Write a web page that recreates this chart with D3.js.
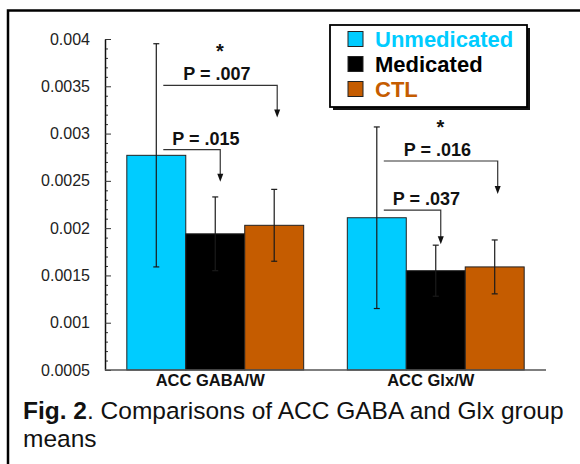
<!DOCTYPE html>
<html>
<head>
<meta charset="utf-8">
<script src="https://cdn.jsdelivr.net/npm/d3@7"></script>
<style>
  body { margin: 0; background: #fff; }
  svg { display: block; font-family: "Liberation Sans", Arial, sans-serif; }
</style>
</head>
<body>
<div id="chart"></div>
<script>
// Data
const groups = ["ACC GABA/W", "ACC Glx/W"];
const series = ["Unmedicated", "Medicated", "CTL"];

const unmedicatedMeans = [0.00277, 0.00211];
const unmedicatedSD = [0.00118, 0.00096];
const medicatedMeans = [0.00194, 0.00155];
const medicatedSD = [0.00039, 0.00027];
const ctlMeans = [0.00203, 0.00159];
const ctlSD = [0.00038, 0.000285];

const yTicks = [0.0005, 0.001, 0.0015, 0.002, 0.0025, 0.003, 0.0035, 0.004];
const yTickLabels = ["0.0005", "0.001", "0.0015", "0.002", "0.0025", "0.003", "0.0035", "0.004"];

// significance brackets: from Unmedicated to target, level of line and arrow tip
const sigGroups = ["ACC GABA/W", "ACC GABA/W", "ACC Glx/W", "ACC Glx/W"];
const sigTargets = ["Medicated", "CTL", "Medicated", "CTL"];
const sigLabels = ["P = .015", "P = .007", "P = .037", "P = .016"];
const sigLineLevels = [0.00283, 0.00351, 0.00219, 0.00271];
const sigTipLevels = [0.00249, 0.00317, 0.00183, 0.00236];
const sigStars = [false, true, false, true];

const colors = { Unmedicated: "#00CCFF", Medicated: "#000000", CTL: "#C55C00" };

const width = 580;
const height = 464;

// plot frame
const plot = { left: 105, right: 546, top: 39, bottom: 370 };

const svg = d3.select("#chart")
  .append("svg")
  .attr("width", width)
  .attr("height", height);

// figure frame (top and left only visible)
svg.append("path")
  .attr("d", `M8,${height} V10.5 H${width}`)
  .attr("fill", "none")
  .attr("stroke", "#000")
  .attr("stroke-width", 2.5);

// table rows
const rows = [];
groups.forEach((g, i) => {
  rows.push({ group: g, key: "Unmedicated", mean: unmedicatedMeans[i], sd: unmedicatedSD[i] });
  rows.push({ group: g, key: "Medicated", mean: medicatedMeans[i], sd: medicatedSD[i] });
  rows.push({ group: g, key: "CTL", mean: ctlMeans[i], sd: ctlSD[i] });
});

// scales
const x0 = d3.scaleBand()
  .domain(groups)
  .range([plot.left, plot.right]);

const x1 = d3.scaleBand()
  .domain(series)
  .range([0, x0.bandwidth()])
  .paddingOuter(0.37);

const y = d3.scaleLinear()
  .domain([0.0005, 0.004])
  .range([plot.bottom, plot.top]);

const cx = (g, k) => x0(g) + x1(k) + x1.bandwidth() / 2;

// bars
svg.append("g")
  .selectAll("rect")
  .data(rows)
  .join("rect")
  .attr("x", d => x0(d.group) + x1(d.key))
  .attr("y", d => y(d.mean))
  .attr("width", x1.bandwidth())
  .attr("height", d => y(0.0005) - y(d.mean))
  .attr("fill", d => colors[d.key])
  .attr("stroke", "#222")
  .attr("stroke-width", 1);

// error bars
const err = svg.append("g")
  .attr("stroke", "#1a1a1a")
  .attr("stroke-width", 1.2)
  .selectAll("g")
  .data(rows)
  .join("g");

err.append("line")
  .attr("x1", d => cx(d.group, d.key))
  .attr("x2", d => cx(d.group, d.key))
  .attr("y1", d => y(d.mean + d.sd))
  .attr("y2", d => y(d.mean - d.sd));

err.append("line")
  .attr("x1", d => cx(d.group, d.key) - 3)
  .attr("x2", d => cx(d.group, d.key) + 3)
  .attr("y1", d => y(d.mean + d.sd))
  .attr("y2", d => y(d.mean + d.sd));

err.append("line")
  .attr("x1", d => cx(d.group, d.key) - 3)
  .attr("x2", d => cx(d.group, d.key) + 3)
  .attr("y1", d => y(d.mean - d.sd))
  .attr("y2", d => y(d.mean - d.sd));

// y axis with minor ticks
const minorTicks = d3.range(5, 41).filter(i => i % 5 !== 0).map(i => i / 10000);

svg.append("g")
  .attr("transform", `translate(${plot.left},0)`)
  .call(d3.axisLeft(y).tickValues(minorTicks).tickFormat("").tickSizeInner(-3).tickSizeOuter(0))
  .call(g => g.select(".domain").remove())
  .call(g => g.selectAll("line").attr("stroke", "#333"));

const yAxis = svg.append("g")
  .attr("transform", `translate(${plot.left},0)`)
  .call(d3.axisLeft(y)
    .tickValues(yTicks)
    .tickFormat((d, i) => yTickLabels[i])
    .tickSizeInner(-6)
    .tickSizeOuter(0)
    .tickPadding(15));

yAxis.select(".domain").attr("stroke", "#111").attr("stroke-width", 1.5);
yAxis.selectAll("line").attr("stroke", "#333");
yAxis.selectAll("text")
  .attr("font-size", 16)
  .attr("fill", "#222")
  .attr("font-family", "Liberation Sans, Arial, sans-serif");

// x baseline
svg.append("line")
  .attr("x1", plot.left)
  .attr("x2", plot.right)
  .attr("y1", y(0.0005))
  .attr("y2", y(0.0005))
  .attr("stroke", "#555")
  .attr("stroke-width", 1.5);

// x category labels
svg.append("g")
  .selectAll("text")
  .data(groups)
  .join("text")
  .attr("x", d => x0(d) + x0.bandwidth() / 2 - 5)
  .attr("y", plot.bottom + 16)
  .attr("text-anchor", "middle")
  .attr("font-size", 16.5)
  .attr("font-weight", "bold")
  .attr("fill", "#111")
  .text(d => d);

// significance brackets
const lineStartShift = 7;
const lineEndShift = { Medicated: 5, CTL: 3 };
const labelShift = { Medicated: 16, CTL: 27 };

sigLabels.forEach((label, i) => {
  const g = sigGroups[i];
  const target = sigTargets[i];
  const xs = cx(g, "Unmedicated") + lineStartShift;
  const xe = cx(g, target) + lineEndShift[target];
  const yl = y(sigLineLevels[i]);
  const yt = y(sigTipLevels[i]);

  svg.append("path")
    .attr("d", `M${xs},${yl} H${xe} V${yt - 7}`)
    .attr("fill", "none")
    .attr("stroke", "#333")
    .attr("stroke-width", 1.2);

  svg.append("path")
    .attr("d", `M${xe - 3},${yt - 8} L${xe + 3},${yt - 8} L${xe},${yt} Z`)
    .attr("fill", "#111");

  const tx = cx(g, "Unmedicated") + labelShift[target];
  const txt = svg.append("text")
    .attr("x", tx)
    .attr("y", yl - 5)
    .attr("font-size", 18)
    .attr("font-weight", "bold")
    .attr("fill", "#111")
    .text(label);

  if (sigStars[i]) {
    const w = txt.node().getComputedTextLength();
    svg.append("text")
      .attr("x", tx + w / 2 + 3)
      .attr("y", yl - 27)
      .attr("text-anchor", "middle")
      .attr("font-size", 20)
      .attr("font-weight", "bold")
      .attr("fill", "#111")
      .text("*");
  }
});

// legend
const legend = svg.append("g").attr("transform", "translate(330,25)");

legend.append("rect")
  .attr("x", 3).attr("y", 3)
  .attr("width", 197).attr("height", 82)
  .attr("fill", "#111");

legend.append("rect")
  .attr("width", 197).attr("height", 82)
  .attr("fill", "#fff")
  .attr("stroke", "#000")
  .attr("stroke-width", 1.8);

const items = legend.selectAll("g.item")
  .data(series)
  .join("g")
  .attr("class", "item")
  .attr("transform", (d, i) => `translate(18,${14 + i * 25})`);

items.append("rect")
  .attr("x", 0).attr("y", -7.5)
  .attr("width", 15).attr("height", 15)
  .attr("fill", d => colors[d])
  .attr("stroke", "#222")
  .attr("stroke-width", 1);

items.append("text")
  .attr("x", 27)
  .attr("y", 8)
  .attr("font-size", 22)
  .attr("font-weight", "bold")
  .attr("fill", d => colors[d])
  .text(d => d);

// caption
const caption = svg.append("text")
  .attr("x", 23)
  .attr("y", 419)
  .attr("font-size", 24.5)
  .attr("fill", "#111");

caption.append("tspan").attr("font-weight", "bold").text("Fig. 2");
caption.append("tspan").text(". Comparisons of ACC GABA and Glx group");

svg.append("text")
  .attr("x", 23)
  .attr("y", 447)
  .attr("font-size", 24.5)
  .attr("fill", "#111")
  .text("means");
</script>
</body>
</html>
